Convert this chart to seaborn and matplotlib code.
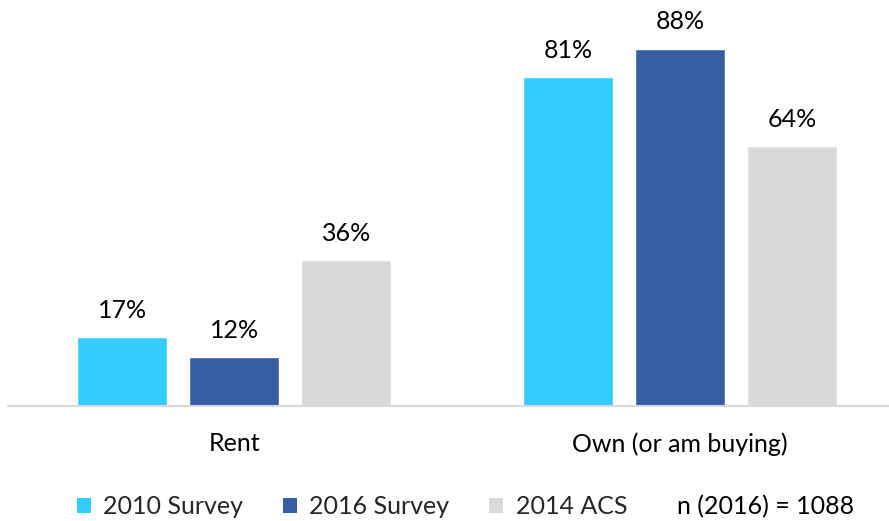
import matplotlib
matplotlib.use("Agg")
import matplotlib.pyplot as plt
from matplotlib.patches import Patch
import seaborn as sns
import pandas as pd

categories = ["Rent", "Own (or am buying)"]
series = ["2010 Survey", "2016 Survey", "2014 ACS"]
values_2010 = [17, 81]
values_2016 = [12, 88]
values_acs = [36, 64]
colors = ["#33CCFF", "#365FA3", "#D9D9D9"]
note = "n (2016) = 1088"

rows = []
for s, vals in zip(series, [values_2010, values_2016, values_acs]):
    for c, v in zip(categories, vals):
        rows.append({"category": c, "series": s, "value": v})
df = pd.DataFrame(rows)

sns.set_theme(style="white")
plt.rcParams["font.family"] = ["Lato", "DejaVu Sans"]

fig = plt.figure(figsize=(8.89, 5.21), dpi=100)
ax = fig.add_axes([8/889, 115/521, 881/889, 406/521])

sns.barplot(data=df, x="category", y="value", hue="series", order=categories,
            hue_order=series, palette=colors, width=0.753, gap=0.196,
            saturation=1, ax=ax, legend=False)

for cont in ax.containers:
    ax.bar_label(cont, labels=[f"{v:.0f}%" for v in cont.datavalues],
                 padding=11, fontsize=18, color="#000000")

ax.set_ylim(0, 100)
ax.set_xlim(-0.507, 1.468)
ax.set_xlabel("")
ax.set_ylabel("")
ax.set_yticks([])
ax.tick_params(axis="x", labelsize=18, pad=19, length=0, colors="#000000")
for side in ["top", "left", "right"]:
    ax.spines[side].set_visible(False)
ax.spines["bottom"].set_color("#D9D9D9")
ax.spines["bottom"].set_linewidth(1.5)

handles = [Patch(facecolor=c, edgecolor="none") for c in colors]
fig.legend(handles, series, loc="center", bbox_to_anchor=(352/889, 1 - 507/521),
           ncol=3, frameon=False, fontsize=18, handlelength=0.55, handleheight=0.55,
           handletextpad=0.5, columnspacing=1.6, borderpad=0, borderaxespad=0)
fig.text(677/889, 1 - 507/521, note, ha="left", va="center", fontsize=18,
         color="#000000")

fig.savefig("out.png", dpi=100)
